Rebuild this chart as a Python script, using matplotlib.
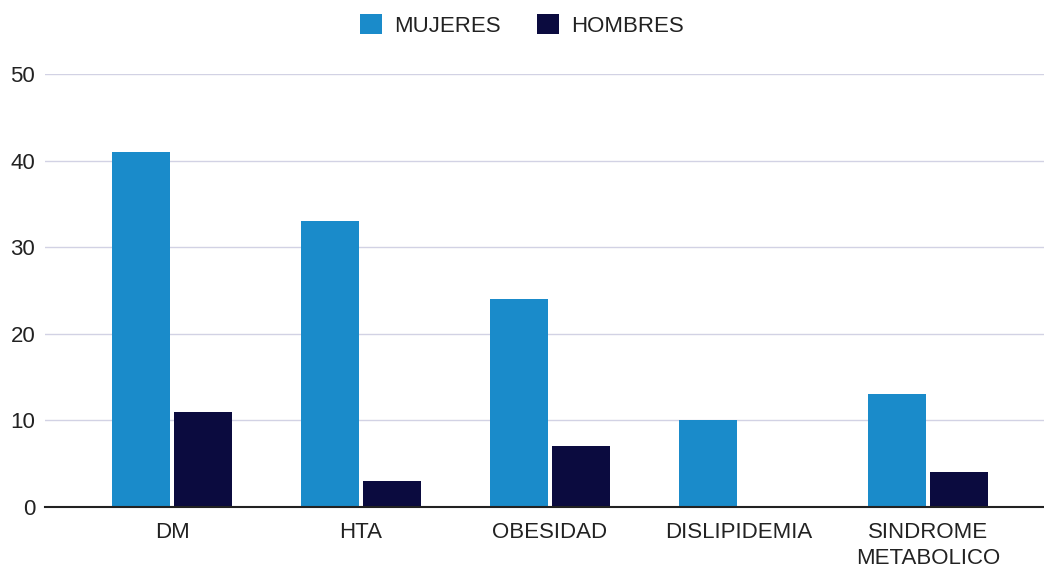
import numpy as np
import matplotlib.pyplot as plt

categories = ["DM", "HTA", "OBESIDAD", "DISLIPIDEMIA", "SINDROME\nMETABOLICO"]
mujeres = [41, 33, 24, 10, 13]
hombres = [11, 3, 7, 0, 4]

plt.rcParams['font.family'] = ['Liberation Sans', 'DejaVu Sans']

fig = plt.figure(figsize=(10.44, 5.69), dpi=100)
W, H = 1044, 569
ax = fig.add_axes([45 / W, (H - 507) / H, (W - 45) / W, (507 - 74) / H])

x = np.arange(len(categories))
w = 0.307
off = 0.164
ax.bar(x - off, mujeres, w, color='#1a8bca', label='MUJERES', zorder=3)
ax.bar(x + off, hombres, w, color='#0b0b3f', label='HOMBRES', zorder=3)

ax.set_xlim(-0.672, 4.614)
ax.set_ylim(0, 50)
ax.set_yticks([0, 10, 20, 30, 40, 50])
ax.set_xticks(x)
ax.set_xticklabels(categories, fontsize=16, color='#222222', linespacing=1.3)
ax.tick_params(axis='y', length=0, labelsize=16, pad=7, labelcolor='#222222')
ax.tick_params(axis='x', length=0, pad=11)
ax.yaxis.grid(True, color='#d2d2e4', linewidth=1, zorder=0)
for s in ['top', 'right', 'left']:
    ax.spines[s].set_visible(False)
ax.spines['bottom'].set_color('#222222')
ax.spines['bottom'].set_linewidth(1.5)
ax.spines['bottom'].set_zorder(4)

fig.legend(loc='upper center', bbox_to_anchor=(0.5, 1.01), ncol=2, frameon=False,
           fontsize=16, handlelength=1.0, handleheight=1.0, columnspacing=1.6,
           handletextpad=0.55, labelcolor='#222222')

plt.savefig("out.png", dpi=100)
